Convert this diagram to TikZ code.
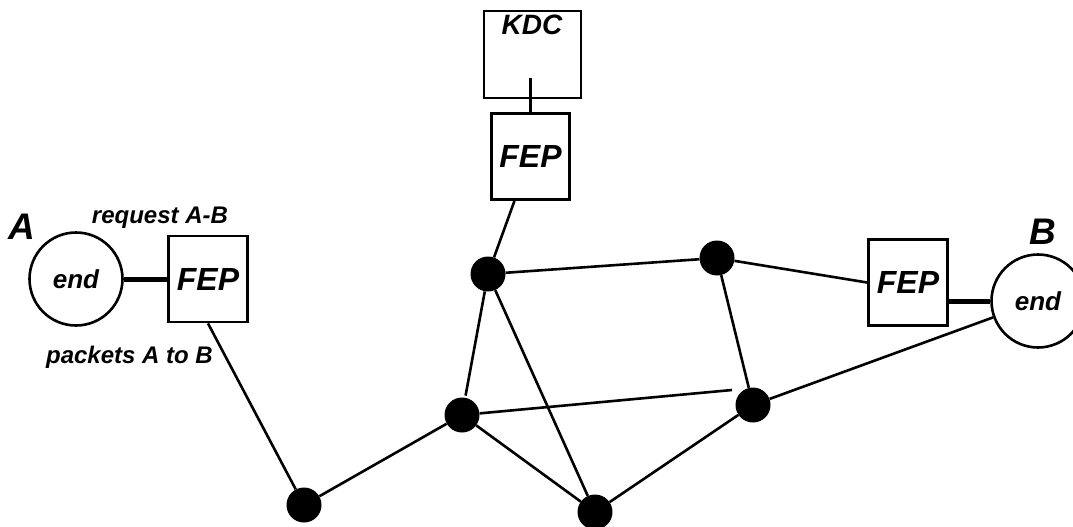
\documentclass[tikz,border=0pt]{standalone}
\usepackage{fontspec}
\setmainfont{Liberation Sans}
\begin{document}
\begin{tikzpicture}[x=1pt,y=-1pt,
  font=\bfseries\itshape,
  box/.style={draw, line width=2.8pt, minimum width=79pt, minimum height=86pt, inner sep=0pt,
              font=\bfseries\itshape\fontsize{32}{34}\selectfont},
  endpt/.style={draw, circle, line width=2.6pt, minimum size=93pt, inner sep=0pt,
              font=\bfseries\itshape\fontsize{26}{28}\selectfont},
  dot/.style={circle, fill=black, minimum size=35pt, inner sep=0pt},
  link/.style={line width=2.6pt},
  access/.style={line width=5pt},
  tag/.style={anchor=base, font=\bfseries\itshape\fontsize{24}{26}\selectfont},
  big/.style={font=\bfseries\itshape\fontsize{37}{40}\selectfont}
]
\path[use as bounding box] (0,0) rectangle (1073,527);

% key distribution centre and its front end
\node[box, minimum width=97pt, minimum height=87pt] (kdc) at (532.5,54.5) {};
\node[font=\bfseries\itshape\fontsize{28}{30}\selectfont] (kdclabel) at (532,25) {KDC};
\node[box, minimum width=78pt] (fepT) at (530.5,156.5) {FEP};
\coordinate (kdcstub) at (530.5,78);
\draw[link] (kdcstub) -- (fepT.north);

% host A
\node[endpt] (endA) at (76,279) {end};
\node[big] (labA) at (22,227) {A};
\node[box] (fepL) at (208,279) {FEP};
\node[tag] (req) at (160,223) {request A-B};
\node[tag] (pkt) at (129.5,363) {packets A to B};
\draw[access] (endA.east) -- (endA.east -| fepL.west);

% host B
\node[box] (fepR) at (908,282.5) {FEP};
\node[endpt] (endB) at (1038,301) {end};
\node[big] (labB) at (1043,232) {B};
\draw[access] (endB.west -| fepR.east) -- (endB.west);

% packet switches
\node[dot] (d1) at (488,274) {};
\node[dot] (d2) at (717,258) {};
\node[dot] (d3) at (462,415) {};
\node[dot] (d4) at (753,405) {};
\node[dot] (d5) at (304,505) {};
\node[dot] (d6) at (595,512) {};
\coordinate (d34end) at (732,390);

% network links
\draw[link] (fepT) -- (d1);
\draw[link] (fepL.south) -- (d5);
\draw[link] (d2) -- (fepR.west);
\draw[link] (d1) -- (d2);
\draw[link, shorten >=2pt] (d1) -- (d3);
\draw[link] (d1) -- (d6);
\draw[link] (d2) -- (d4);
\draw[link] (d3) -- (d34end);
\draw[link] (d5) -- (d3);
\draw[link] (d3) -- (d6);
\draw[link] (d6) -- (d4);
\draw[link] (d4) -- (endB);
\end{tikzpicture}
\end{document}
